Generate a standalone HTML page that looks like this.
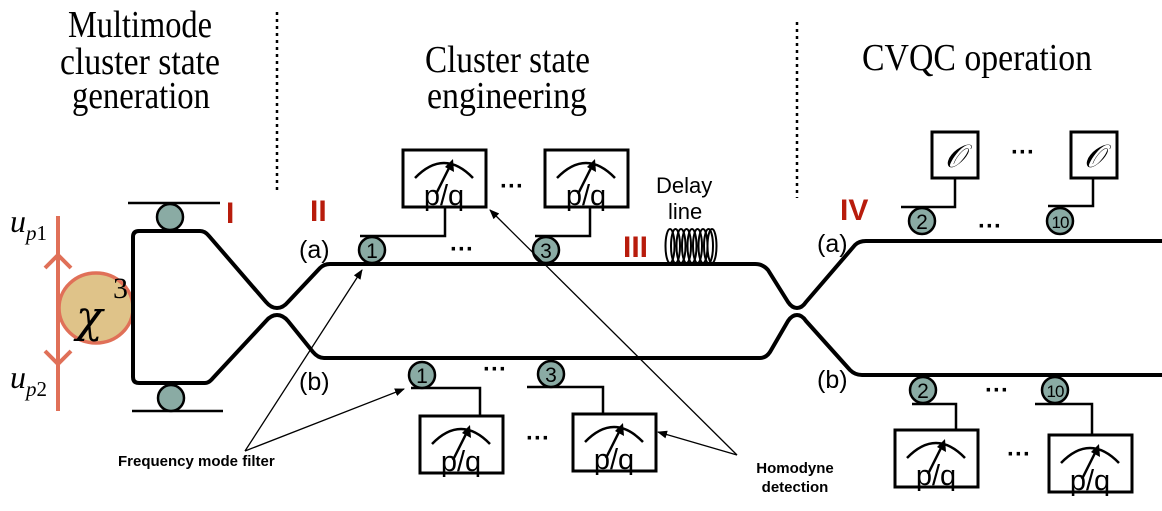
<!DOCTYPE html>
<html><head><meta charset="utf-8"><style>html,body{margin:0;padding:0;background:#fff;}svg{display:block}</style></head>
<body>
<svg width="1162" height="511" viewBox="0 0 1162 511" xmlns="http://www.w3.org/2000/svg">
<defs>
<marker id="ah" markerWidth="10" markerHeight="8" refX="9" refY="4" orient="auto" markerUnits="userSpaceOnUse"><path d="M0,0 L10,4 L0,8 Z" fill="#000"/></marker>
<g id="meter">
<rect x="0" y="0" width="83" height="57" fill="#fff" stroke="#000" stroke-width="3"/>
<path d="M12,28 Q41,-2 70,28" fill="none" stroke="#000" stroke-width="2.5"/>
<line x1="33" y1="44" x2="48" y2="14" stroke="#000" stroke-width="2.5"/>
<path d="M50,9 L51,22 L42,17 Z" fill="#000"/>
<text x="41" y="55" font-family="Liberation Sans, sans-serif" font-size="29" text-anchor="middle">p/q</text>
</g>
<g id="obox">
<rect x="0" y="0" width="46" height="46" fill="#fff" stroke="#000" stroke-width="3"/>
<text x="23" y="35" font-family="Liberation Serif, serif" font-style="italic" font-size="32" text-anchor="middle">𝒪</text>
</g>
</defs>
<g font-family="Liberation Serif, serif" font-size="38" fill="#000">
<text x="68" y="37" textLength="144" lengthAdjust="spacingAndGlyphs">Multimode</text>
<text x="60" y="74" textLength="160" lengthAdjust="spacingAndGlyphs">cluster state</text>
<text x="72" y="108" textLength="138" lengthAdjust="spacingAndGlyphs">generation</text>
<text x="425" y="72" textLength="165" lengthAdjust="spacingAndGlyphs">Cluster state</text>
<text x="427" y="108" textLength="160" lengthAdjust="spacingAndGlyphs">engineering</text>
<text x="862" y="70" textLength="230" lengthAdjust="spacingAndGlyphs">CVQC operation</text>
</g>
<line x1="277" y1="12" x2="277" y2="192" stroke="#000" stroke-width="2.5" stroke-dasharray="3,4"/>
<line x1="797" y1="22" x2="797" y2="198" stroke="#000" stroke-width="2.5" stroke-dasharray="3,4"/>
<!-- pump -->
<line x1="58" y1="216" x2="58" y2="411" stroke="#e07058" stroke-width="4"/>
<path d="M45,268 L58,255 L71,268" fill="none" stroke="#e07058" stroke-width="4"/>
<path d="M45,351 L58,364 L71,351" fill="none" stroke="#e07058" stroke-width="4"/>
<ellipse cx="96" cy="308" rx="37" ry="35" fill="#dfc389" stroke="#e07058" stroke-width="3.5"/>
<text x="76" y="332" font-family="DejaVu Serif, serif" font-style="italic" font-size="44">χ</text>
<text x="113" y="298" font-family="Liberation Serif, serif" font-size="30">3</text>
<g font-family="Liberation Serif, serif" font-style="italic" font-size="32">
<text x="10" y="232">u<tspan font-size="21" dy="8">p</tspan><tspan font-size="21" font-style="normal">1</tspan></text>
<text x="10" y="388">u<tspan font-size="21" dy="8">p</tspan><tspan font-size="21" font-style="normal">2</tspan></text>
</g>
<!-- waveguides -->
<g fill="none" stroke="#000" stroke-width="4" stroke-linejoin="round">
<path d="M200,231 L139,231 Q133,231 133,237 L133,377 Q133,383 139,383 L205,383"/>
<path d="M200,231 Q205,231 209,236 L266,302 Q271,308 277,308 Q283,308 288,302 L320,268 Q324,264 330,264 L755,264 Q763,264 768,270 L788,302 Q792,308 797,308 Q802,308 806,302 L855,245 Q859,241 866,241 L1162,241"/>
<path d="M205,383 Q209,383 213,378 L266,321 Q271,315 277,315 Q283,315 288,321 L313,352 Q318,358 324,358 L760,358 Q766,358 770,352 L788,321 Q792,315 797,315 Q802,315 806,321 L850,370 Q855,375 862,375 L1162,375"/>
</g>
<!-- source rings -->
<line x1="128" y1="203" x2="220" y2="203" stroke="#000" stroke-width="2.5"/>
<circle cx="170" cy="217" r="13" fill="#8aaba4" stroke="#000" stroke-width="2.5"/>
<line x1="132" y1="411" x2="223" y2="411" stroke="#000" stroke-width="2.5"/>
<circle cx="171" cy="398" r="13" fill="#8aaba4" stroke="#000" stroke-width="2.5"/>
<g font-family="Liberation Sans, sans-serif" font-weight="bold" font-size="30" fill="#b81c0c">
<text x="226" y="223">I</text>
<text x="310" y="221">II</text>
<text x="623" y="257">III</text>
<text x="840" y="220">IV</text>
</g>
<g font-family="Liberation Sans, sans-serif" font-size="25">
<text x="299" y="258">(a)</text>
<text x="299" y="390">(b)</text>
<text x="817" y="252">(a)</text>
<text x="817" y="388">(b)</text>
<text x="656" y="193" font-size="22">Delay</text>
<text x="668" y="219" font-size="22">line</text>
</g>
<!-- coil -->
<g fill="none" stroke="#000" stroke-width="2">
<ellipse cx="670" cy="246" rx="4.5" ry="17"/><ellipse cx="675.5" cy="246" rx="4.5" ry="17"/><ellipse cx="681" cy="246" rx="4.5" ry="17"/><ellipse cx="686.5" cy="246" rx="4.5" ry="17"/><ellipse cx="692" cy="246" rx="4.5" ry="17"/><ellipse cx="697.5" cy="246" rx="4.5" ry="17"/><ellipse cx="703" cy="246" rx="4.5" ry="17"/><ellipse cx="708.5" cy="246" rx="4.5" ry="17"/><ellipse cx="712" cy="246" rx="4.5" ry="17"/>
</g>
<!-- connectors -->
<g fill="none" stroke="#000" stroke-width="2.5">
<path d="M360,236 L445,236 L445,206"/>
<path d="M535,236 L590,236 L590,206"/>
<path d="M411,388 L480,388 L480,416"/>
<path d="M527,387 L603,387 L603,414"/>
<path d="M901,207 L955,207 L955,178"/>
<path d="M1048,206 L1093,206 L1093,176"/>
<path d="M912,404 L956,404 L956,430"/>
<path d="M1035,404 L1092,404 L1092,435"/>
</g>
<use href="#meter" x="403" y="150"/>
<use href="#meter" x="545" y="150"/>
<use href="#meter" x="420" y="416"/>
<use href="#meter" x="573" y="414"/>
<use href="#meter" x="895" y="430"/>
<use href="#meter" x="1049" y="435"/>
<use href="#obox" x="932" y="132"/>
<use href="#obox" x="1071" y="132"/>
<!-- mode rings -->
<g stroke="#000" stroke-width="2.5" fill="#8aaba4">
<circle cx="372" cy="250" r="13"/><circle cx="546" cy="250" r="13"/>
<circle cx="422" cy="375" r="13"/><circle cx="551" cy="374" r="13"/>
<circle cx="922" cy="221" r="13"/><circle cx="1060" cy="221" r="13"/>
<circle cx="923" cy="390" r="13"/><circle cx="1055" cy="390" r="13"/>
</g>
<g font-family="Liberation Sans, sans-serif" font-size="21" text-anchor="middle">
<text x="372" y="258">1</text><text x="546" y="258">3</text>
<text x="422" y="383">1</text><text x="551" y="382">3</text>
<text x="922" y="229">2</text><text x="1060" y="228" font-size="17" letter-spacing="-1">10</text>
<text x="923" y="398">2</text><text x="1055" y="397" font-size="17" letter-spacing="-1">10</text>
</g>
<g font-family="Liberation Sans, sans-serif" font-size="24" font-weight="bold" text-anchor="middle">
<text x="462" y="257">···</text><text x="512" y="194">···</text>
<text x="495" y="377">···</text><text x="538" y="446">···</text>
<text x="1023" y="160">···</text><text x="990" y="234">···</text>
<text x="997" y="398">···</text><text x="1019" y="462">···</text>
</g>
<!-- annotation arrows -->
<g stroke="#000" stroke-width="1.3" fill="none" marker-end="url(#ah)">
<line x1="245" y1="451" x2="362" y2="270"/>
<line x1="245" y1="451" x2="404" y2="389"/>
<line x1="737" y1="455" x2="490" y2="210"/>
<line x1="737" y1="455" x2="658" y2="432"/>
</g>
<g font-family="Liberation Sans, sans-serif" font-weight="bold" font-size="15">
<text x="118" y="466">Frequency mode filter</text>
<text x="795" y="473" text-anchor="middle">Homodyne</text>
<text x="795" y="492" text-anchor="middle">detection</text>
</g>
</svg>
</body></html>
